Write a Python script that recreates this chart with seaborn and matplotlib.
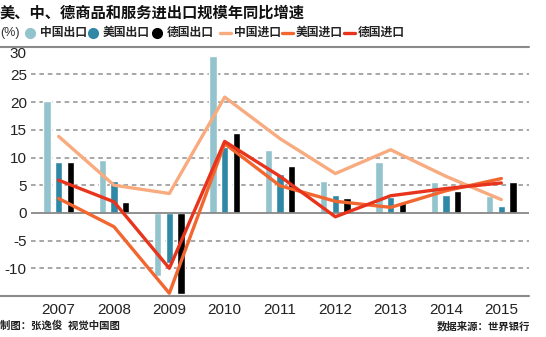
import numpy as np
import pandas as pd
import matplotlib
matplotlib.use("Agg")
import matplotlib.pyplot as plt
from matplotlib.lines import Line2D
import seaborn as sns

years = ["2007", "2008", "2009", "2010", "2011", "2012", "2013", "2014", "2015"]
cn_export = [20.2, 9.5, -11.3, 28.3, 11.3, 5.8, 9.2, 5.6, 3.0]
us_export = [9.1, 5.7, -9.0, 11.9, 7.1, 3.3, 2.9, 3.2, 1.3]
de_export = [9.1, 1.9, -14.6, 14.4, 8.5, 2.7, 1.9, 4.0, 5.5]
cn_import = [13.8, 5.0, 3.5, 20.9, 13.4, 7.1, 11.4, 6.6, 2.4]
us_import = [2.6, -2.5, -14.5, 12.5, 4.9, 2.1, 1.0, 4.0, 6.2]
de_import = [5.9, 2.0, -10.0, 12.9, 6.6, -0.7, 3.1, 4.4, 5.4]

bar_names = ["中国出口", "美国出口", "德国出口"]
line_names = ["中国进口", "美国进口", "德国进口"]
bar_colors = ["#93c3cd", "#2f88a5", "#000000"]
line_colors = ["#f8ab7e", "#f26630", "#e8341c"]
yticks = [-10, -5, 0, 5, 10, 15, 20, 25, 30]
grid_vals = [-10, -5, 5, 10, 15, 20, 25]

sns.set_theme(style="white")
plt.rcParams["font.family"] = ["Liberation Sans", "Noto Sans CJK SC", "DejaVu Sans"]
plt.rcParams["axes.unicode_minus"] = False

bar_df = pd.DataFrame({
    "year": years * 3,
    "value": cn_export + us_export + de_export,
    "series": sum([[n] * len(years) for n in bar_names], []),
})
line_df = pd.DataFrame({
    "pos": list(range(len(years))) * 3,
    "value": cn_import + us_import + de_import,
    "series": sum([[n] * len(years) for n in line_names], []),
})

fig = plt.figure(figsize=(5.46, 3.37), dpi=100)
W, H = 546, 337
ax = fig.add_axes([31 / W, 1 - 296 / H, (529 - 31) / W, (296 - 46.7) / H])

sns.barplot(data=bar_df, x="year", y="value", hue="series", hue_order=bar_names,
            palette=bar_colors, width=0.63, gap=0.38, saturation=1, legend=False,
            ax=ax, zorder=2, order=years)
sns.lineplot(data=line_df, x="pos", y="value", hue="series", hue_order=line_names,
             palette=line_colors, linewidth=2.4, legend=False, ax=ax, zorder=3,
             sort=False)

x0, x1 = -0.5, len(years) - 0.5
ax.set_xlim(x0, x1)
ax.set_ylim(-15, 30)
for v in grid_vals:
    ax.axhline(v, color="#8f8f8f", linewidth=1.1, linestyle=(0, (3, 2.5)), zorder=1.5)

ax.set_yticks(yticks)
ax.set_yticklabels([str(v) for v in yticks])
for lab, v in zip(ax.get_yticklabels(), yticks):
    if v == 30:
        lab.set_va("top")
ax.set_xticks(range(len(years)))
ax.set_xticklabels(years)
ax.tick_params(axis="both", length=0, labelsize=11, colors="#222222")
ax.tick_params(axis="x", pad=5)
ax.tick_params(axis="y", pad=3)
ax.set_xlabel("")
ax.set_ylabel("")
for s in ax.spines.values():
    s.set_visible(False)
ax.axhline(0, color="#888888", lw=1.3, zorder=2.5)

# frame lines spanning the full width
for yy in [46.7, 296]:
    fig.add_artist(Line2D([0, 529 / W], [1 - yy / H, 1 - yy / H], color="#8a8a8a", lw=1.5))

# title
fig.text(0.0, 1 - 13 / H, "美、中、德商品和服务进出口规模年同比增速", fontsize=11,
         fontweight="bold", va="center", ha="left", color="#111111")

# legend row
ly = 1 - 33 / H
fig.text(0.0, ly, "(%)", fontsize=9, va="center", ha="left", color="#333333")
items = [
    ("marker", bar_colors[0], 30, 40, bar_names[0]),
    ("marker", bar_colors[1], 93, 103, bar_names[1]),
    ("marker", bar_colors[2], 157, 167, bar_names[2]),
    ("line", line_colors[0], 226, 234, line_names[0]),
    ("line", line_colors[1], 288, 296, line_names[1]),
    ("line", line_colors[2], 350, 358, line_names[2]),
]
for kind, col, xm, xt, name in items:
    if kind == "marker":
        fig.add_artist(Line2D([xm / W], [ly], marker="o", markersize=7, color=col, lw=0))
    else:
        fig.add_artist(Line2D([(xm - 6) / W, (xm + 5) / W], [ly, ly], color=col, lw=2.4))
    fig.text(xt / W, ly, name, fontsize=8.5, va="center", ha="left", color="#222222",
             fontweight="bold")

# footer
fig.text(0.0, 1 - 326 / H, "制图：张逸俊  视觉中国图", fontsize=7.5, va="center", ha="left",
         color="#222222", fontweight="bold")
fig.text(530 / W, 1 - 326 / H, "数据来源：世界银行", fontsize=7.5, va="center", ha="right",
         color="#222222", fontweight="bold")

fig.savefig("out.png", dpi=100)
